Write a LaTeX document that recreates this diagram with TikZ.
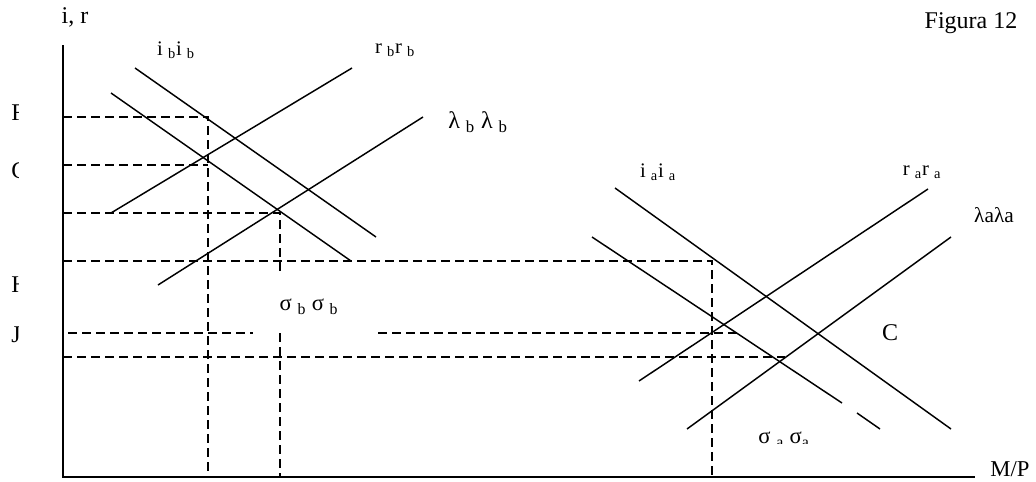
\documentclass[tikz,border=0pt]{standalone}
\usepackage{fontspec}
\setmainfont{Liberation Serif}
\usepackage{tikz}
\usetikzlibrary{positioning}

\begin{document}
\begin{tikzpicture}[
  x=0.75pt,y=-0.75pt,
  every node/.style={font=\fontsize{18}{20}\selectfont,inner sep=0pt},
  axis/.style={line width=1.5pt},
  curve/.style={line width=1.1pt},
  guide/.style={line width=1.1pt,dash pattern=on 7pt off 3.5pt},
  sublbl/.style={font=\fontsize{15.5}{17}\selectfont},
  greeklbl/.style={font=\fontsize{17}{19}\selectfont}
]
  \useasboundingbox (0,0) rectangle (1036,482);
  \coordinate (origin) at (63,477);
  \coordinate (ytop) at (63,45);
  \coordinate (xend) at (975,477);
  \draw[axis] (ytop) -- (origin) -- (xend);
  \node (yname) at (75,17) {i, r};
  \node[font=\fontsize{17}{19}\selectfont] (xname) at (1010,469) {M/P};
  \node (fig) at (971,23) {Figura 12};

  \begin{scope}
    \clip (0,90) rectangle (18,360);
    \node[anchor=west] (levF) at (11,113) {F};
    \node[anchor=west] (levG) at (11,171) {G};
    \node[anchor=west] (levH) at (11,285) {H};
    \node[anchor=west] (levJ) at (11,335) {J};
  \end{scope}

  \draw[guide] (63,117) -- (208,117) -- (208,477);
  \draw[guide] (63,165) -- (208,165);
  \draw[guide] (63,213) -- (280,213) -- (280,273);
  \draw[guide] (280,333) -- (280,477);
  \draw[guide] (63,261) -- (712,261) -- (712,477);
  \draw[guide] (68,333) -- (253,333);
  \draw[guide] (378,333) -- (737,333);
  \draw[guide] (63,357) -- (785,357);

  \draw[curve] (135,68) -- (376,237);
  \draw[curve] (111,93) -- (351,261);
  \draw[curve] (111,213) -- (352,68);
  \draw[curve] (158,285) -- (423,117);
  \draw[curve] (615,188) -- (951,429);
  \draw[curve] (592,237) -- (842,403);
  \draw[curve] (857,413) -- (880,429);
  \draw[curve] (639,381) -- (928,189);
  \draw[curve] (687,429) -- (951,237);

  \node[sublbl] (ib) at (176,50) {i \textsubscript{b}i \textsubscript{b}};
  \node[sublbl] (rb) at (395,50) {r \textsubscript{b}r \textsubscript{b}};
  \node (lamb) at (478,122) {λ \textsubscript{b} λ \textsubscript{b}};
  \node[greeklbl] (sigb) at (309,307) {σ \textsubscript{b} σ \textsubscript{b}};
  \node[sublbl] (ia) at (658,172) {i \textsubscript{a}i \textsubscript{a}};
  \node[sublbl] (ra) at (922,172) {r \textsubscript{a}r \textsubscript{a}};
  \node[font=\fontsize{16}{18}\selectfont] (lama) at (994,215) {λaλa};
  \node (ptC) at (890,333) {C};
  \begin{scope}
    \clip (700,400) rectangle (860,443);
    \node[greeklbl] (siga) at (784,440) {σ \textsubscript{a} σ\textsubscript{a}};
  \end{scope}
\end{tikzpicture}
\end{document}
